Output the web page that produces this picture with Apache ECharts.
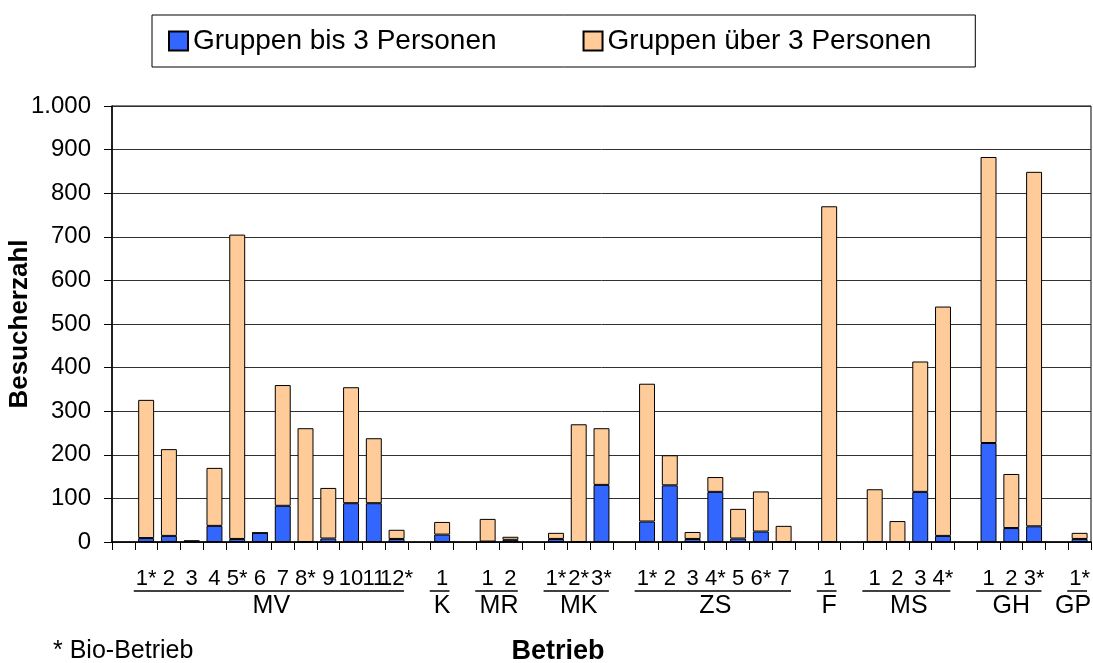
<!DOCTYPE html>
<html>
<head>
<meta charset="utf-8">
<script src="https://cdn.jsdelivr.net/npm/echarts@6/dist/echarts.min.js"></script>
<style>
  html, body { margin: 0; padding: 0; background: #fff; }
  #chart { width: 1093px; height: 663px; }
</style>
</head>
<body>
<div id="chart"></div>
<script>
// Kategorien (Leerplätze zwischen den Betriebsgruppen)
const slotLabels = ['', '1*', '2', '3', '4', '5*', '6', '7', '8*', '9', '10', '11', '12*',
  '', '1', '', '1', '2', '', '1*', '2*', '3*', '', '1*', '2', '3', '4*', '5', '6*', '7',
  '', '1', '', '1', '2', '3', '4*', '', '1', '2', '3*', '', '1*'];

// Gruppen bis 3 Personen
const bis3 = [null, 9, 14, 2, 37, 7, 21, 83, 0, 8, 89, 89, 7,
  null, 17, null, 1, 5, null, 7, 0, 131, null, 47, 130, 7, 115, 8, 24, 0,
  null, 0, null, 0, 0, 115, 14, null, 227, 32, 36, null, 7];

// Gruppen über 3 Personen
const ueber3 = [null, 317, 199, 1, 133, 698, 0, 277, 261, 116, 266, 149, 21,
  null, 29, null, 52, 7, null, 14, 270, 130, null, 316, 69, 16, 34, 68, 92, 37,
  null, 770, null, 121, 48, 299, 526, null, 656, 124, 813, null, 14];

// Betriebsgruppen: Name, erster und letzter Platz
const groupNames = ['MV', 'K', 'MR', 'MK', 'ZS', 'F', 'MS', 'GH', 'GP'];
const groupStart = [1, 14, 16, 19, 23, 31, 33, 38, 42];
const groupEnd = [12, 14, 17, 21, 29, 31, 36, 40, 42];

const yTicks = { min: 0, max: 1000, interval: 100 };

const font = '"Liberation Sans", Arial, sans-serif';

// Unterstrich + Gruppenname unter der Achse
function renderGroup(params, api) {
  const i = params.dataIndex;
  const a = api.coord([api.value(0), 0]);
  const b = api.coord([api.value(2), 0]);
  const w = api.size([1, 0])[0];
  const cx = Math.min((a[0] + b[0]) / 2, api.getWidth() - 20);
  return {
    type: 'group',
    children: [
      {
        type: 'line',
        shape: { x1: a[0] - w / 2 - 1, y1: a[1] + 49, x2: b[0] + w / 2 - 4, y2: a[1] + 49 },
        style: { stroke: '#000', lineWidth: 1.5 }
      },
      {
        type: 'text',
        x: cx,
        y: a[1] + 52,
        style: { text: groupNames[i], align: 'center', verticalAlign: 'top', font: '25px ' + font, fill: '#000' }
      }
    ]
  };
}

const chart = echarts.init(document.getElementById('chart'));

chart.setOption({
  animation: false,
  textStyle: { fontFamily: font, color: '#000' },
  legend: {
    data: ['Gruppen bis 3 Personen', 'Gruppen über 3 Personen'],
    left: 152,
    top: 15,
    itemWidth: 19,
    itemHeight: 19,
    itemGap: 86,
    icon: 'rect',
    padding: [12, 44, 12, 16],
    borderColor: '#000',
    borderWidth: 1,
    textStyle: { fontSize: 28, color: '#000', fontFamily: font }
  },
  grid: {
    left: 112, right: 2, top: 106, bottom: 121,
    show: true, borderColor: '#000', borderWidth: 1,
    outerBoundsMode: 'none'
  },
  xAxis: {
    type: 'category',
    data: slotLabels,
    axisLine: { lineStyle: { color: '#000', width: 1.5 } },
    axisTick: { show: true, interval: 0, length: 8, lineStyle: { color: '#000' } },
    axisLabel: { interval: 0, fontSize: 22, color: '#000', margin: 26 },
    splitLine: { show: false }
  },
  yAxis: {
    type: 'value',
    min: yTicks.min,
    max: yTicks.max,
    interval: yTicks.interval,
    name: 'Besucherzahl',
    nameLocation: 'middle',
    nameRotate: 90,
    nameGap: 79,
    nameMoveOverlap: false,
    nameTextStyle: { fontSize: 26, fontWeight: 'bold', color: '#000' },
    axisLine: { show: true, lineStyle: { color: '#000', width: 1.5 } },
    axisTick: { show: true, length: 8, lineStyle: { color: '#000' } },
    axisLabel: {
      fontSize: 24, color: '#000', margin: 21,
      formatter: v => String(v).replace(/\B(?=(\d{3})+(?!\d))/g, '.')
    },
    splitLine: { lineStyle: { color: '#303030', width: 1 } }
  },
  graphic: [
    { type: 'text', x: 558, y: 638, style: { text: 'Betrieb', align: 'center', font: 'bold 27px ' + font, fill: '#000' } },
    { type: 'text', x: 53, y: 639, style: { text: '* Bio-Betrieb', font: '25px ' + font, fill: '#000' } }
  ],
  series: [
    {
      name: 'Gruppen bis 3 Personen',
      type: 'bar',
      stack: 'besucher',
      data: bis3,
      barCategoryGap: '30%',
      itemStyle: { color: '#3366FF', borderColor: '#000', borderWidth: 1 }
    },
    {
      name: 'Gruppen über 3 Personen',
      type: 'bar',
      stack: 'besucher',
      data: ueber3,
      barCategoryGap: '30%',
      itemStyle: { color: '#FFCC99', borderColor: '#000', borderWidth: 1 }
    },
    {
      type: 'custom',
      silent: true,
      clip: false,
      renderItem: renderGroup,
      data: groupStart.map((s, i) => [s, 0, groupEnd[i]])
    }
  ]
});
</script>
</body>
</html>
